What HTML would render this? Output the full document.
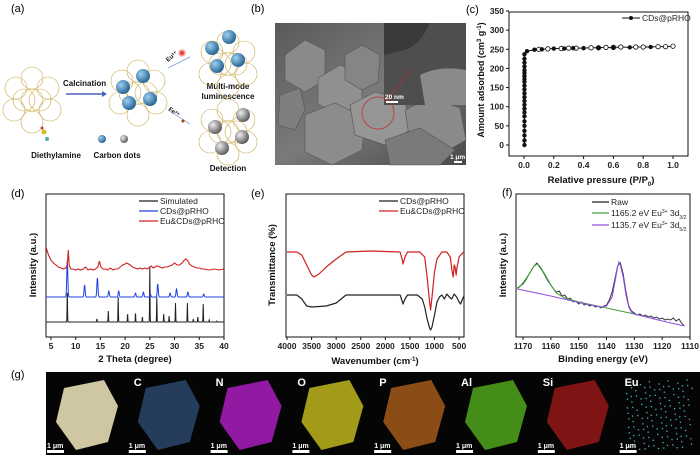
<!DOCTYPE html>
<html><head><meta charset="utf-8"><style>
html,body{margin:0;padding:0;background:#fff;}
svg{display:block;font-family:"Liberation Sans",Arial,sans-serif;}
.lab{font-size:11px;}
.tk{font-size:8.5px;font-weight:bold;fill:#222;}
.tt{font-size:9.5px;font-weight:bold;fill:#111;}
.lg{font-size:8.5px;fill:#222;}
.sch{font-size:8px;font-weight:bold;fill:#111;}
</style></head><body>
<svg id="fig" width="700" height="455" viewBox="0 0 700 455" xmlns="http://www.w3.org/2000/svg">
<defs>
<radialGradient id="bsph" cx="0.35" cy="0.35" r="0.7"><stop offset="0" stop-color="#9fd0f0"/><stop offset="1" stop-color="#1f5f8f"/></radialGradient>
<radialGradient id="gsph" cx="0.35" cy="0.35" r="0.7"><stop offset="0" stop-color="#eee"/><stop offset="1" stop-color="#555"/></radialGradient>
<radialGradient id="rglow" cx="0.5" cy="0.5" r="0.5"><stop offset="0" stop-color="#e02020"/><stop offset="0.4" stop-color="#f06060"/><stop offset="1" stop-color="#ffdede" stop-opacity="0"/></radialGradient>
<linearGradient id="semg" x1="0" y1="0" x2="1" y2="1"><stop offset="0" stop-color="#5a5a5a"/><stop offset="0.5" stop-color="#7a7a7a"/><stop offset="1" stop-color="#4a4a4a"/></linearGradient>
</defs>

<text class="lab" x="11" y="12">(a)</text>
<text class="lab" x="251" y="12">(b)</text>
<text class="lab" x="466" y="13">(c)</text>
<text class="lab" x="11" y="197">(d)</text>
<text class="lab" x="251" y="197">(e)</text>
<text class="lab" x="502" y="196">(f)</text>
<text class="lab" x="11" y="378">(g)</text>

<g id="pa">
  <line x1="66" y1="94" x2="102" y2="94" stroke="#4a5fc0" stroke-width="1.5"/>
  <polygon points="102,91 107,94 102,97" fill="#4a5fc0"/>
  <text class="sch" x="63" y="86">Calcination</text>
  <line x1="168" y1="68" x2="190" y2="57" stroke="#9ab0e0" stroke-width="1"/>
  <line x1="168" y1="110" x2="190" y2="124" stroke="#9ab0e0" stroke-width="1"/>
  <text class="sch" x="168" y="62" transform="rotate(-40 168 62)" style="font-size:6px">Eu³⁺</text>
  <circle cx="182" cy="53" r="5" fill="url(#rglow)"/>
  <text class="sch" x="168" y="110" transform="rotate(35 168 110)" style="font-size:6px">Fe³⁺</text>
  <circle cx="183" cy="121" r="1.5" fill="#a04010"/>
  <text class="sch" x="228" y="89" text-anchor="middle">Multi-mode</text>
  <text class="sch" x="228" y="99" text-anchor="middle">luminescence</text>
  <text class="sch" x="228" y="171" text-anchor="middle">Detection</text>
  <text class="sch" x="56" y="158" text-anchor="middle">Diethylamine</text>
  <text class="sch" x="117" y="158" text-anchor="middle">Carbon dots</text>
  <circle cx="102" cy="139" r="4" fill="url(#bsph)"/>
  <circle cx="124" cy="139" r="4" fill="url(#gsph)"/>
  <circle cx="44" cy="132" r="2.5" fill="#d0c020"/><circle cx="47" cy="139" r="2" fill="#50b0b0"/><circle cx="42" cy="128" r="1.5" fill="#c02020"/>
</g>

<g id="pb">
  <rect x="275" y="23" width="191" height="142" fill="url(#semg)"/>
  <polygon points="285,55 305,40 325,50 325,80 305,92 285,80" fill="#8a8a8a" stroke="#555" stroke-width="0.6"/>
  <polygon points="318,78 340,65 362,75 362,102 340,115 318,104" fill="#909090" stroke="#555" stroke-width="0.6"/>
  <polygon points="345,55 362,45 380,55 378,82 362,90 345,80" fill="#858585" stroke="#555" stroke-width="0.6"/>
  <polygon points="280,95 300,88 305,110 295,130 278,125" fill="#7e7e7e" stroke="#555" stroke-width="0.6"/>
  <polygon points="305,115 335,103 365,118 362,150 332,165 305,152" fill="#8c8c8c" stroke="#555" stroke-width="0.6"/>
  <polygon points="350,105 375,92 405,100 410,130 385,145 355,135" fill="#969696" stroke="#555" stroke-width="0.6"/>
  <polygon points="405,110 430,98 460,108 466,140 440,155 410,142" fill="#8a8a8a" stroke="#555" stroke-width="0.6"/>
  <polygon points="385,140 420,128 455,150 440,165 390,165" fill="#7a7a7a" stroke="#555" stroke-width="0.6"/>
  <rect x="384" y="23" width="82" height="82" fill="#4e4e4e"/>
  <path d="M420,75 Q440,65 466,70 L466,105 L425,105 Z" fill="#8a8a8a"/>
  <path d="M384,23 L430,23 Q420,45 405,50 L384,55 Z" fill="#3a3a3a"/>
  <circle cx="378" cy="113" r="16" fill="none" stroke="#c03030" stroke-width="0.8"/>
  <line x1="386" y1="101" x2="412" y2="69" stroke="#c03030" stroke-width="0.6"/>
  <text x="385" y="99" style="font-size:6.5px;fill:#fff;font-weight:bold">20 nm</text>
  <rect x="386" y="101" width="12" height="2" fill="#fff"/>
  <text x="450" y="159" style="font-size:6.5px;fill:#fff;font-weight:bold">1 μm</text>
  <rect x="454" y="161" width="8" height="2" fill="#fff"/>
</g>

<g id="pc">
  <rect x="509" y="12" width="179" height="144" fill="none" stroke="#111" stroke-width="1"/>
  <text class="tt" x="601" y="183" text-anchor="middle">Relative pressure (P/P<tspan baseline-shift="sub" font-size="6">0</tspan>)</text>
  <text class="tt" x="484" y="80" text-anchor="middle" transform="rotate(-90 484 80)" style="font-size:9px">Amount adsorbed (cm<tspan baseline-shift="super" font-size="6">3</tspan> g<tspan baseline-shift="super" font-size="6">-1</tspan>)</text>
  <line x1="622" y1="18" x2="640" y2="18" stroke="#111" stroke-width="1"/><circle cx="631" cy="18" r="2" fill="#111"/>
  <text class="lg" x="642" y="21">CDs@pRHO</text>
</g>

<g id="pd">
  <rect x="46" y="194" width="178" height="143" fill="none" stroke="#111" stroke-width="1"/>
  <text class="tt" x="135" y="362" text-anchor="middle">2 Theta (degree)</text>
  <text class="tt" x="36" y="265" text-anchor="middle" transform="rotate(-90 36 265)">Intensity (a.u.)</text>
  <line x1="139" y1="201" x2="158" y2="201" stroke="#222" stroke-width="1.2"/><text class="lg" x="160" y="204">Simulated</text>
  <line x1="139" y1="211" x2="158" y2="211" stroke="#2040e0" stroke-width="1.2"/><text class="lg" x="160" y="214">CDs@pRHO</text>
  <line x1="139" y1="221" x2="158" y2="221" stroke="#d02020" stroke-width="1.2"/><text class="lg" x="160" y="224">Eu&amp;CDs@pRHO</text>
</g>

<g id="pe">
  <rect x="286" y="194" width="178" height="143" fill="none" stroke="#111" stroke-width="1"/>
  <text class="tt" x="375" y="364" text-anchor="middle">Wavenumber (cm<tspan baseline-shift="super" font-size="6">-1</tspan>)</text>
  <text class="tt" x="275" y="265" text-anchor="middle" transform="rotate(-90 275 265)">Transmittance (%)</text>
  <line x1="379" y1="201" x2="398" y2="201" stroke="#222" stroke-width="1.2"/><text class="lg" x="400" y="204">CDs@pRHO</text>
  <line x1="379" y1="211" x2="398" y2="211" stroke="#d02020" stroke-width="1.2"/><text class="lg" x="400" y="214">Eu&amp;CDs@pRHO</text>
</g>

<g id="pf">
  <rect x="516" y="194" width="174" height="143" fill="none" stroke="#111" stroke-width="1"/>
  <text class="tt" x="603" y="362" text-anchor="middle">Binding energy (eV)</text>
  <text class="tt" x="506" y="265" text-anchor="middle" transform="rotate(-90 506 265)">Intensity (a.u.)</text>
  <line x1="592" y1="202" x2="609" y2="202" stroke="#222" stroke-width="1.2"/><text class="lg" x="611" y="205">Raw</text>
  <line x1="592" y1="213" x2="609" y2="213" stroke="#40a040" stroke-width="1.2"/><text class="lg" x="611" y="216">1165.2 eV Eu<tspan baseline-shift="super" font-size="5">3+</tspan> 3d<tspan baseline-shift="sub" font-size="5">3/2</tspan></text>
  <line x1="592" y1="225" x2="609" y2="225" stroke="#9050e0" stroke-width="1.2"/><text class="lg" x="611" y="228">1135.7 eV Eu<tspan baseline-shift="super" font-size="5">3+</tspan> 3d<tspan baseline-shift="sub" font-size="5">5/2</tspan></text>
</g>

<g id="pg">
  <rect x="46" y="372" width="654" height="83" fill="#050505"/>
</g>
</svg>

<script>
const adsP = [0.003,0.003,0.003,0.003,0.003,0.003,0.003,0.003,0.003,0.003,0.003,0.003,0.003,0.003,0.003,0.003,0.003,0.003,0.003,0.003,0.003,0.003,0.003,0.003,0.02,0.07,0.12,0.2,0.27,0.33,0.4,0.5,0.6,0.71,0.85];
const adsV = [0,12,25,37,50,62,75,85,95,105,115,125,135,145,155,165,172,180,188,195,205,215,225,237,245,249,250,252,252,253,253,254,254,255,256];
const desP = [1.0,0.95,0.9,0.8,0.75,0.65,0.6,0.55,0.5,0.45,0.35,0.3,0.25,0.16,0.1];
const desV = [258,257,257,256,256,256,255,255,254,254,253,253,252,251,250];
const cXTicks = [0,0.2,0.4,0.6,0.8,1.0];
const cXTickLabels = ["0.0","0.2","0.4","0.6","0.8","1.0"];
const cYTicks = [0,50,100,150,200,250,300,350];

const simPos = [8.3,14.3,16.6,18.6,20.5,22.1,23.5,25.0,26.4,27.8,28.9,30.2,32.6,33.8,34.7,35.8,37.0,38.5];
const simH   = [32,3,11,25,8,9,5,55,25,8,6,19,19,3,5,18,2,1];
const simBase = 15;
const cdsPos = [8.3,11.8,14.4,16.7,18.7,22.1,23.7,25.1,26.6,29.1,30.4,32.7,35.9];
const cdsH   = [36,12,19,6,6,4,5,3,13,4,8,5,3];
const cdsBase = 40;
const euTheta = [4,4.5,5,5.5,6,6.5,7,7.5,8,8.3,8.5,8.7,9,9.5,10,10.5,11,11.5,12,12.5,13,13.5,14,14.5,14.8,15.1,15.5,16,16.5,17,17.5,18,18.5,19,19.5,20,20.3,20.7,21,21.5,22,22.5,23,23.5,24,24.5,25,25.3,25.7,26,26.5,27,27.5,28,28.5,29,29.5,30,30.5,31,31.5,32,32.3,32.7,33,33.5,34,34.5,35,35.5,36,37,38,39,40];
const euInt = [90,82,77,74,72,70,69,68,69,72,87,72,68,68,67,68,67,68,70,67,68,67,68,70,76,70,68,68,67,69,67,68,68,70,72,73,74,73,72,70,69,68,69,68,69,68,70,71,69,70,71,70,69,70,70,71,72,74,72,72,74,77,78,76,73,71,70,69,69,68,68,67,68,67,68];
const dXTicks = [5,10,15,20,25,30,35,40];

const redWn = [4000,3800,3700,3600,3500,3450,3350,3200,3000,2800,2300,1700,1660,1640,1600,1550,1300,1200,1150,1100,1080,1050,1000,950,850,750,680,640,620,600,580,560,540,500,450,400];
const redT  = [85,85,82,72,62,60,63,70,78,85,86,85,78,73,80,85,85,80,60,35,27,40,65,78,85,85,80,65,60,72,70,62,70,80,83,85];
const blkWn = [4000,3800,3700,3600,3500,3200,3000,2800,2000,1700,1660,1640,1600,1550,1350,1250,1200,1150,1100,1080,1050,1000,950,900,850,800,750,700,650,600,550,500,470,430,400];
const blkT  = [42,42,38,31,30,31,34,42,42,42,36,33,38,42,42,38,30,18,9,7,10,22,35,40,42,38,43,40,38,43,40,35,33,38,41];
const eXTicks = [4000,3500,3000,2500,2000,1500,1000,500];

const rawE = [1172,1171,1170,1169,1168,1167,1166,1165,1164,1163,1162,1161,1160,1159,1158,1157,1156,1155,1154,1153,1152,1151,1150,1149,1148,1147,1146,1145,1144,1143,1142,1141,1140,1139,1138,1137,1136,1135,1134,1133,1132,1131,1130,1129,1128,1127,1126,1125,1124,1123,1122,1121,1120,1119,1118,1117,1116,1115,1114,1113,1112];
const rawI = [49,51,53,57,62,67,71,74,70,66,61,56,52,48,45,46,41,42,38,39,35,36,33,35,32,33,31,32,30,31,29,31,32,37,45,58,71,74,63,45,31,26,24,22,23,21,22,20,21,19,20,18,19,17,18,17,19,16,18,14,11];
const greenE = [1172,1170,1168,1166,1165,1164,1162,1160,1158,1155,1150,1145,1140,1135,1130,1128];
const greenI = [48,54,62,71,73,71,62,52,44,39,35,32,29,26,23,22];
const purpE = [1172,1160,1150,1142,1140,1138,1137,1136,1135.5,1135,1134,1133,1132,1131,1130,1120,1112];
const purpI = [48,41,34.5,30,31,40,55,70,75,72,60,42,30,25,23,16,11];
const fXTicks = [1170,1160,1150,1140,1130,1120,1110];

const elements = ["", "C","N","O","P","Al","Si","Eu"];
const elemColors = ["#e6dcb4","#2e4a70","#a21cb4","#b4ac1c","#9a5418","#4c9c1c","#8c1616","#40b8c8"];

const NS = "http://www.w3.org/2000/svg";
function scale(d0,d1,r0,r1){return v=>r0+(v-d0)*(r1-r0)/(d1-d0);}
function mk(tag, attrs, parent){const e=document.createElementNS(NS,tag);for(const k in attrs)e.setAttribute(k,attrs[k]);parent.appendChild(e);return e;}
function pathFrom(xs,ys,sx,sy){return xs.map((x,i)=>(i?"L":"M")+sx(x).toFixed(1)+","+sy(ys[i]).toFixed(1)).join(" ");}
function xTicks(g,ticks,labels,sx,yb){
  ticks.forEach((t,i)=>{
    const l=mk("line",{x1:sx(t),x2:sx(t),y1:yb,y2:yb+3,stroke:"#111","stroke-width":1},g);
    
    
    const tx=mk("text",{x:sx(t),y:yb+12,"text-anchor":"middle",class:"tk"},g);
    tx.textContent=labels?labels[i]:String(t);
    
    
  });
}

(function(){
  const g=document.getElementById("pc");
  const sx=scale(0,1,524,673), sy=scale(0,350,145,11);
  xTicks(g,cXTicks,cXTickLabels,sx,156);
  cYTicks.forEach(t=>{
    const l=mk("line",{x1:506,x2:509,y1:sy(t),y2:sy(t),stroke:"#111"},g);
    
    
    const tx=mk("text",{x:504,y:sy(t)+3,"text-anchor":"end",class:"tk"},g);
    tx.textContent=String(t);
    
    
  });
  const allP=adsP.concat(desP), allV=adsV.concat(desV);
  const idx=allP.map((p,i)=>i).sort((a,b)=>allP[a]-allP[b]||allV[a]-allV[b]);
  const ln=mk("path",{d:pathFrom(idx.map(i=>allP[i]),idx.map(i=>allV[i]),sx,sy),fill:"none",stroke:"#111","stroke-width":1},g);
  
  
  desP.forEach((p,i)=>{
    const c=mk("circle",{cx:sx(p),cy:sy(desV[i]),r:2.2,fill:"#fff",stroke:"#111","stroke-width":0.8},g);
    
    
  });
  adsP.forEach((p,i)=>{
    const c=mk("circle",{cx:sx(p),cy:sy(adsV[i]),r:2.2,fill:"#111"},g);
    
    
  });
})();

(function(){
  const g=document.getElementById("pd");
  const sx=scale(4,40,46,224), sy=scale(0,143,337,194);
  xTicks(g,dXTicks,null,sx,337);
  function peaks(pos,h,base,w){
    const xs=[],ys=[];
    for(let t=4;t<=40.001;t+=0.04){let v=base;pos.forEach((p,i)=>{v+=h[i]*Math.exp(-Math.pow((t-p)/w,2));});xs.push(t);ys.push(v);}
    return [xs,ys];
  }
  const s=peaks(simPos,simH,simBase,0.06);
  const p1=mk("path",{d:pathFrom(s[0],s[1],sx,sy),fill:"none",stroke:"#222","stroke-width":1},g);
  
  
  const b=peaks(cdsPos,cdsH,cdsBase,0.15);
  const p2=mk("path",{d:pathFrom(b[0],b[1],sx,sy),fill:"none",stroke:"#2040e0","stroke-width":1},g);
  
  
  const p3=mk("path",{d:pathFrom(euTheta,euInt,sx,sy),fill:"none",stroke:"#d02020","stroke-width":1.1},g);
  
  
})();

(function(){
  const g=document.getElementById("pe");
  const sx=scale(4000,400,287,464), sy=scale(0,143,337,194);
  xTicks(g,eXTicks,null,sx,337);
  const p1=mk("path",{d:pathFrom(blkWn,blkT,sx,sy),fill:"none",stroke:"#222","stroke-width":1.2,"stroke-linejoin":"round"},g);
  
  
  const p2=mk("path",{d:pathFrom(redWn,redT,sx,sy),fill:"none",stroke:"#d02020","stroke-width":1.2,"stroke-linejoin":"round"},g);
  
  
})();

(function(){
  const g=document.getElementById("pf");
  const sx=scale(1170,1110,523,690), sy=scale(0,143,337,194);
  xTicks(g,fXTicks,null,sx,337);
  const p1=mk("path",{d:pathFrom(rawE,rawI,sx,sy),fill:"none",stroke:"#222","stroke-width":0.9},g);
  
  
  const p2=mk("path",{d:pathFrom(greenE,greenI,sx,sy),fill:"none",stroke:"#40a040","stroke-width":1.1},g);
  
  
  const p3=mk("path",{d:pathFrom(purpE,purpI,sx,sy),fill:"none",stroke:"#9050e0","stroke-width":1.1},g);
  
  
})();

(function(){
  const g=document.getElementById("pg");
  const tw=81.8;
  elements.forEach((el,i)=>{
    const x0=46+i*tw;
    const cx=x0+40, cy=414;
    const pts=[[cx-22,cy-26],[cx+18,cy-34],[cx+32,cy-8],[cx+22,cy+28],[cx-10,cy+36],[cx-30,cy+8]].map(p=>p.join(",")).join(" ");
    if(i===7){
      for(let k=1;k<=130;k++){
        const fx=(k*0.7548776662)%1, fy=(k*0.5698402910)%1;
        const d=mk("rect",{x:cx-33+fx*66,y:cy-35+fy*70,width:1.3,height:1.3,fill:elemColors[i]},g);
        
        
      }
    } else {
      const h=mk("polygon",{points:pts,fill:elemColors[i],opacity:i===1?0.8:0.9},g);
      
      
    }
    if(el){
      const t=mk("text",{x:x0+6,y:386,fill:"#fff","font-size":"11","font-weight":"bold"},g);
      t.textContent=el;
      
      
    }
    const sb=mk("text",{x:x0+1,y:448,fill:"#fff","font-size":"7","font-weight":"bold"},g);
    sb.textContent="1 μm";
    
    
    const bar=mk("rect",{x:x0+1,y:450,width:17,height:3,fill:"#fff"},g);
    
    
  });
})();

(function(){
  const g=document.getElementById("pa");
  const clusters=[[32,100,"none"],[138,93,"b"],[228,64,"b"],[228,132,"g"]];
  const spheres={1:[[123,87],[143,76],[129,103],[150,99]],2:[[229,37],[212,48],[217,66],[238,60]],3:[[243,115],[215,127],[242,137],[222,148]]};
  clusters.forEach((c,ci)=>{
    [[0,0],[-16,-12],[16,-12],[-18,10],[18,10],[0,-22],[0,22],[-8,0],[8,0]].forEach(o=>{
      const cc=mk("circle",{cx:c[0]+o[0],cy:c[1]+o[1],r:11,fill:"none",stroke:"#c8a84a","stroke-width":0.6},g);
      
      
    });
    (spheres[ci]||[]).forEach(s=>{
      const sp=mk("circle",{cx:s[0],cy:s[1],r:7,fill:c[2]==="b"?"url(#bsph)":"url(#gsph)"},g);
      
      
    });
  });
})();
</script>
</body></html>
